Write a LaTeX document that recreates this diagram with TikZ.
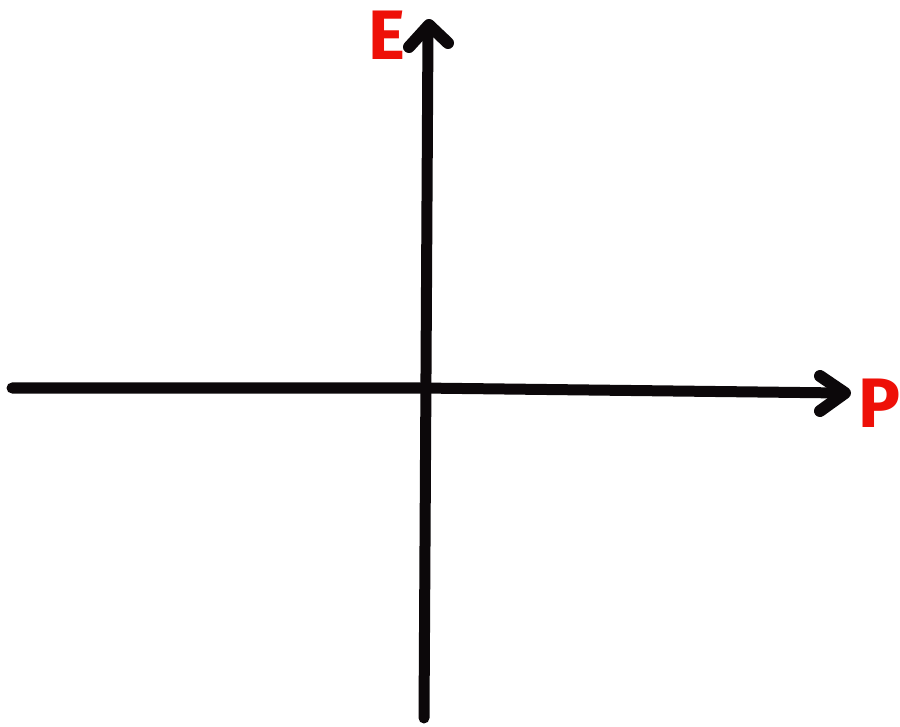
\documentclass[tikz,border=0pt]{standalone}
\usepackage{fontspec}
\setmainfont{Fira Sans}
\definecolor{labelred}{RGB}{238,16,8}
\definecolor{ink}{RGB}{12,8,10}
\begin{document}
\begin{tikzpicture}[x=1pt,y=-1pt,
  axis/.style={draw=ink,line width=11pt,line cap=round,line join=round},
  tip/.style={draw=ink,line width=12pt,line cap=round,line join=round},
  lbl/.style={text=labelred,font=\fontsize{70}{70}\selectfont\bfseries,inner sep=0pt}]
\useasboundingbox (0,0) rectangle (900,727);
\fill[white] (0,0) rectangle (900,727);
% axis end points
\coordinate (hL) at (12,388);
\coordinate (hM) at (420,388);
\coordinate (hR) at (842,393);
\coordinate (vB) at (424,718);
\coordinate (vT) at (428,28);
% axes
\draw[axis] (hL) -- (hM) -- (hR);
\draw[axis] (vB) -- (vT);
% arrowheads
\coordinate (rA) at (820,376);
\coordinate (rT) at (845,393);
\coordinate (rB) at (820,411);
\draw[tip] (rA) -- (rT) -- (rB);
\coordinate (tA) at (409,47);
\coordinate (tT) at (429,25);
\coordinate (tB) at (448,43);
\draw[tip] (tA) -- (tT) -- (tB);
% labels
\node[lbl] (E) at (387,35) {E};
\node[lbl] (P) at (879,403) {P};
\end{tikzpicture}
\end{document}
